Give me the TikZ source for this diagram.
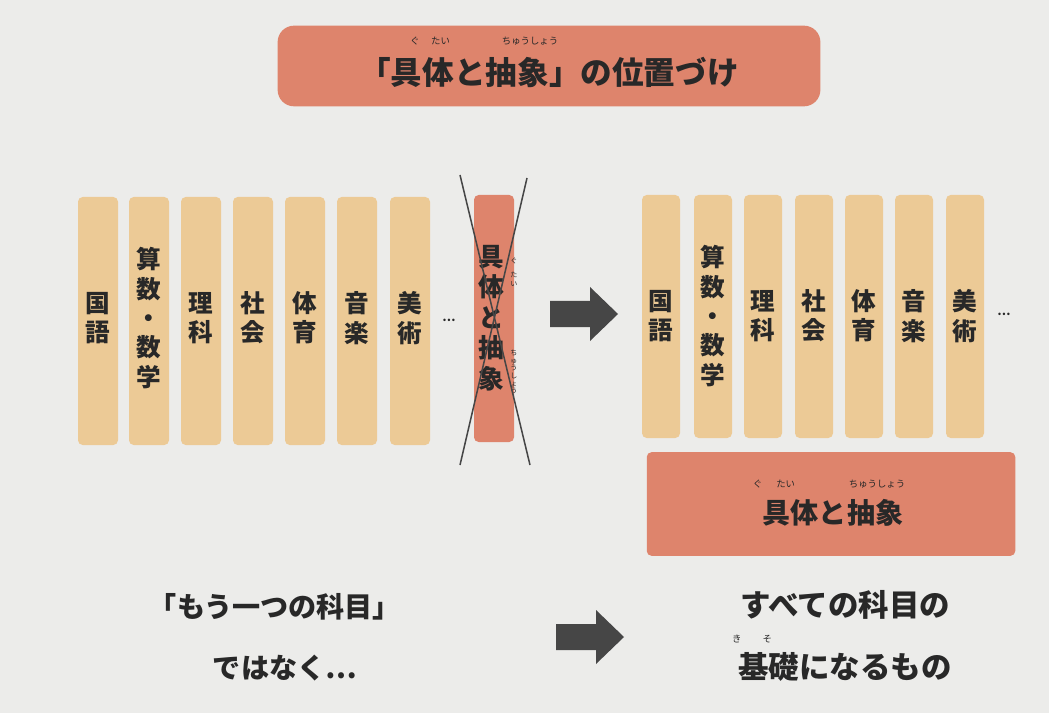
\documentclass[tikz,border=0pt]{standalone}
\usepackage{fontspec}
\setmainfont{Noto Sans CJK JP}
\definecolor{bg}{RGB}{236,236,234}
\definecolor{sal}{RGB}{222,132,108}
\definecolor{beige}{RGB}{236,202,150}
\definecolor{ink}{RGB}{40,40,40}
\definecolor{arr}{RGB}{70,70,70}
\tikzset{
  pil/.style={fill=beige,rounded corners=4pt},
  vt/.style={text=ink,font=\fontsize{21}{25}\selectfont\bfseries,align=center},
  rb/.style={text=ink,font=\fontsize{8}{9}\selectfont},
  btx/.style={text=ink,font=\fontsize{24}{28}\selectfont\bfseries},
  big/.style={text=ink,font=\fontsize{24}{28}\selectfont\bfseries}
}
\newcommand\blockarrow[1]{\fill[arr] ($(#1)+(-34,-13)$) -- ++(40,0) -- ++(0,-14) -- ++(28,27) -- ++(-28,27) -- ++(0,-14) -- ++(-40,0) -- cycle;}
\usetikzlibrary{calc}
\begin{document}
\begin{tikzpicture}[x=0.03cm,y=-0.03cm]
\fill[bg] (0,0) rectangle (1049,713);
% title
\node[fill=sal,rounded corners=14pt,minimum width=545*0.85pt,minimum height=81*0.85pt] (title) at (549,66) {};
\node[font=\fontsize{27}{30}\selectfont\bfseries,text=ink] (tt) at (549,72) {「具体と抽象」の位置づけ};
\node[rb] (t1) at (430,41) {ぐ\hspace{10pt}たい};
\node[rb] (t2) at (530,41) {ちゅうしょう};
% left pillars
\foreach \x/\t [count=\i] in {98/国\\語,149/算\\数\\・\\数\\学,201/理\\科,253/社\\会,305/体\\育,357/音\\楽,410/美\\術}{
  \fill[pil] (\x-20,197) rectangle (\x+20,445);
  \node[vt] (l\i) at (\x,318) {\t};
}
\node[text=ink,font=\bfseries] (ld) at (449,320) {…};
\fill[sal,rounded corners=4pt] (474,195) rectangle (514,442);
\node[vt,font=\fontsize{22}{26}\selectfont\bfseries] (cx) at (491,318) {具\\体\\と\\抽\\象};
\node[rb,align=center,font=\fontsize{6}{7.5}\selectfont] at (514,272) {ぐ\\[5pt]た\\い};
\node[rb,align=center,font=\fontsize{6}{6.5}\selectfont] at (514,372) {ち\\ゅ\\う\\し\\ょ\\う};
\coordinate (c1) at (460,175); \coordinate (c2) at (530,465);
\coordinate (c3) at (527,178); \coordinate (c4) at (460,465);
\draw[arr,line width=1.3pt] (c1) -- (c2);
\draw[arr,line width=1.3pt] (c3) -- (c4);
\coordinate (a1) at (584,314);
\blockarrow{a1}
% right pillars
\foreach \x/\t [count=\i] in {661/国\\語,713/算\\数\\・\\数\\学,763/理\\科,814/社\\会,864/体\\育,914/音\\楽,965/美\\術}{
  \fill[pil] (\x-19,195) rectangle (\x+19,438);
  \node[vt] (r\i) at (\x,316) {\t};
}
\node[text=ink,font=\bfseries] (rd) at (1004,314) {…};
\node[fill=sal,rounded corners=4pt,minimum width=370*0.85pt,minimum height=104*0.85pt] (base) at (831,504) {};
\node[big] (bt) at (833,513) {具体と抽象};
\node[rb] at (774,484) {ぐ\hspace{12pt}たい};
\node[rb] at (877,484) {ちゅうしょう};
% bottom
\node[btx] (b1) at (275,607) {「もう一つの科目」};
\node[btx] (b2) at (285,668) {ではなく…};
\coordinate (a2) at (590,637);
\blockarrow{a2}
\node[btx,font=\fontsize{26}{30}\selectfont\bfseries] (b3) at (845,605) {すべての科目の};
\node[btx,font=\fontsize{26}{30}\selectfont\bfseries] (b4) at (845,667) {基礎になるもの};
\node[rb] at (752,639) {き\hspace{18pt}そ};
\end{tikzpicture}
\end{document}
